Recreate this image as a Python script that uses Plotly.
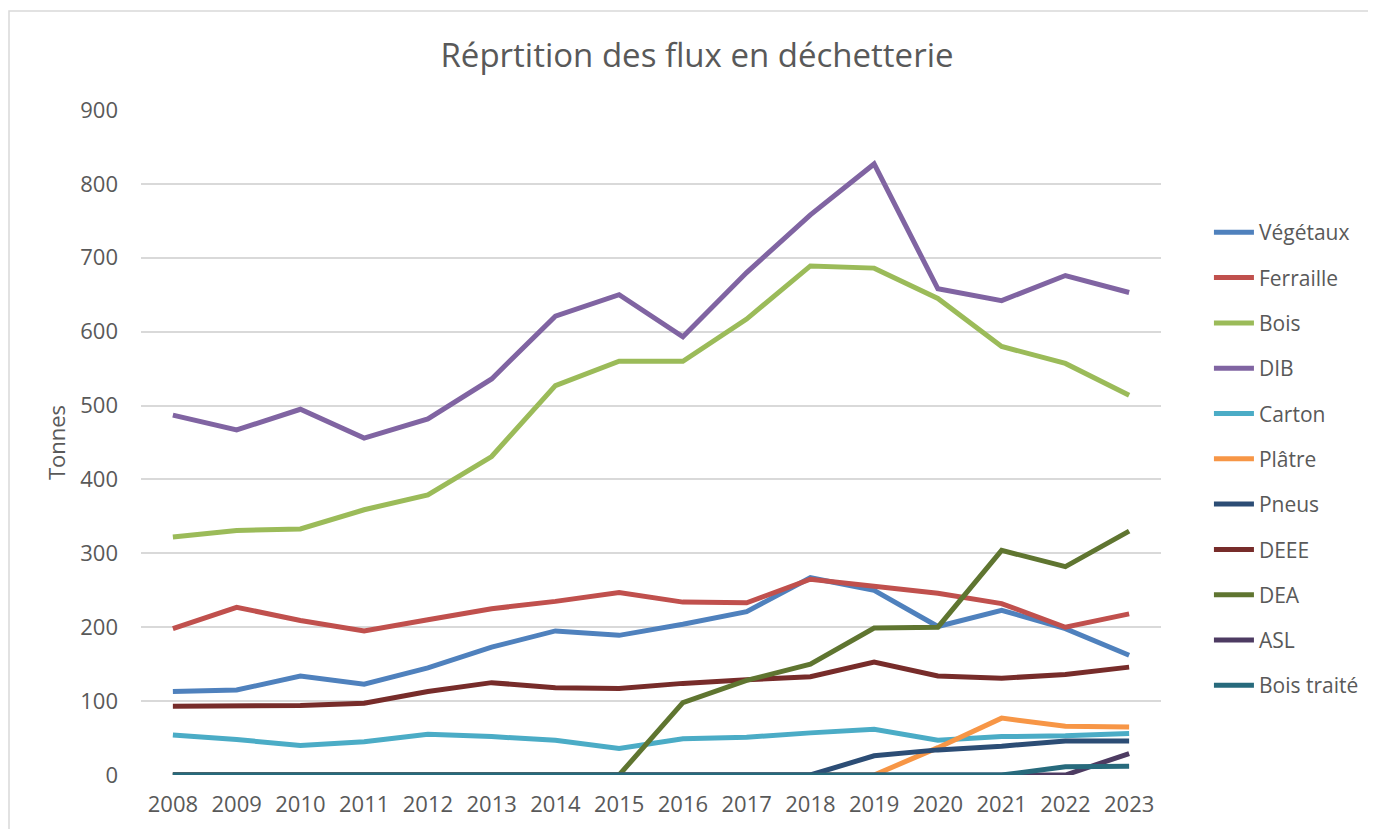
import plotly.graph_objects as go

years = [str(y) for y in range(2008, 2024)]

vegetaux = [113, 115, 134, 123, 145, 173, 195, 189, 204, 221, 267, 250, 201, 223, 198, 162]
ferraille = [198, 227, 209, 195, 210, 225, 235, 247, 234, 233, 265, 256, 246, 232, 200, 218]
bois = [322, 331, 333, 359, 379, 431, 527, 560, 560, 617, 689, 686, 645, 580, 557, 514]
dib = [487, 467, 495, 456, 482, 536, 621, 650, 593, 680, 758, 827, 658, 642, 676, 653]
carton = [54, 48, 40, 45, 55, 52, 47, 36, 49, 51, 57, 62, 47, 52, 53, 56]
platre = [0, 0, 0, 0, 0, 0, 0, 0, 0, 0, 0, 0, 37, 77, 66, 65]
pneus = [0, 0, 0, 0, 0, 0, 0, 0, 0, 0, 0, 26, 34, 39, 46, 46]
deee = [93, 94, 94, 97, 113, 125, 118, 117, 124, 129, 133, 153, 134, 131, 136, 146]
dea = [0, 0, 0, 0, 0, 0, 0, 0, 98, 128, 150, 199, 200, 304, 282, 330]
asl = [0, 0, 0, 0, 0, 0, 0, 0, 0, 0, 0, 0, 0, 0, 0, 29]
bois_traite = [0, 0, 0, 0, 0, 0, 0, 0, 0, 0, 0, 0, 0, 0, 11, 12]

series_names = ["Végétaux", "Ferraille", "Bois", "DIB", "Carton", "Plâtre",
                "Pneus", "DEEE", "DEA", "ASL", "Bois traité"]
series_values = [vegetaux, ferraille, bois, dib, carton, platre,
                 pneus, deee, dea, asl, bois_traite]
colors = ["#4F81BD", "#C0504D", "#9BBB59", "#8064A2", "#4BACC6", "#F79646",
          "#2C4D75", "#772C2A", "#5F7530", "#4D3B62", "#276A7C"]

y_ticks = [0, 100, 200, 300, 400, 500, 600, 700, 800, 900]

fig = go.Figure()
for name, vals, col in zip(series_names, series_values, colors):
    fig.add_trace(go.Scatter(
        x=years, y=vals, mode="lines", name=name, legendgroup=name,
        line=dict(color=col, width=5),
    ))

font_family = "Open Sans, Noto Sans, sans-serif"
W, H = 1368, 821
fig.update_layout(
    width=W, height=H,
    paper_bgcolor="white", plot_bgcolor="white",
    margin=dict(l=133, r=215, t=102, b=54),
    title=dict(text="Réprtition des flux en déchetterie", x=(697 - 8) / W, xref="container",
               xanchor="center", y=1 - 47 / H, yanchor="middle",
               font=dict(family=font_family, size=33, color="#595959")),
    font=dict(family=font_family, color="#595959", size=21),
    xaxis=dict(type="category", showgrid=False, zeroline=False, showline=False,
               ticks="", tickfont=dict(size=22, color="#595959"),
               ticklabelstandoff=14,
               range=[-0.5, len(years) - 0.5]),
    yaxis=dict(range=[0, 900], tickvals=y_ticks, showgrid=True, gridcolor="#D9D9D9",
               gridwidth=1.5, zeroline=False, showline=False, ticks="",
               tickfont=dict(size=22, color="#595959"), ticklabelstandoff=22,
               title=dict(text="Tonnes", font=dict(size=22, color="#595959"), standoff=8)),
    legend=dict(x=1.047, xanchor="left", y=0.475, yanchor="middle",
                font=dict(size=21, color="#595959"), tracegroupgap=15,
                itemwidth=40, bgcolor="rgba(0,0,0,0)"),
    shapes=[dict(type="rect", xref="paper", yref="paper",
                 x0=(9 - 141) / 1020, x1=(1376 - 141 + 5) / 1020,
                 y0=-(829 - 775 + 5) / 665, y1=(775 - 11) / 665,
                 line=dict(color="#D9D9D9", width=1.5), fillcolor="rgba(0,0,0,0)",
                 layer="below")],
)

fig.write_html("out.html")
